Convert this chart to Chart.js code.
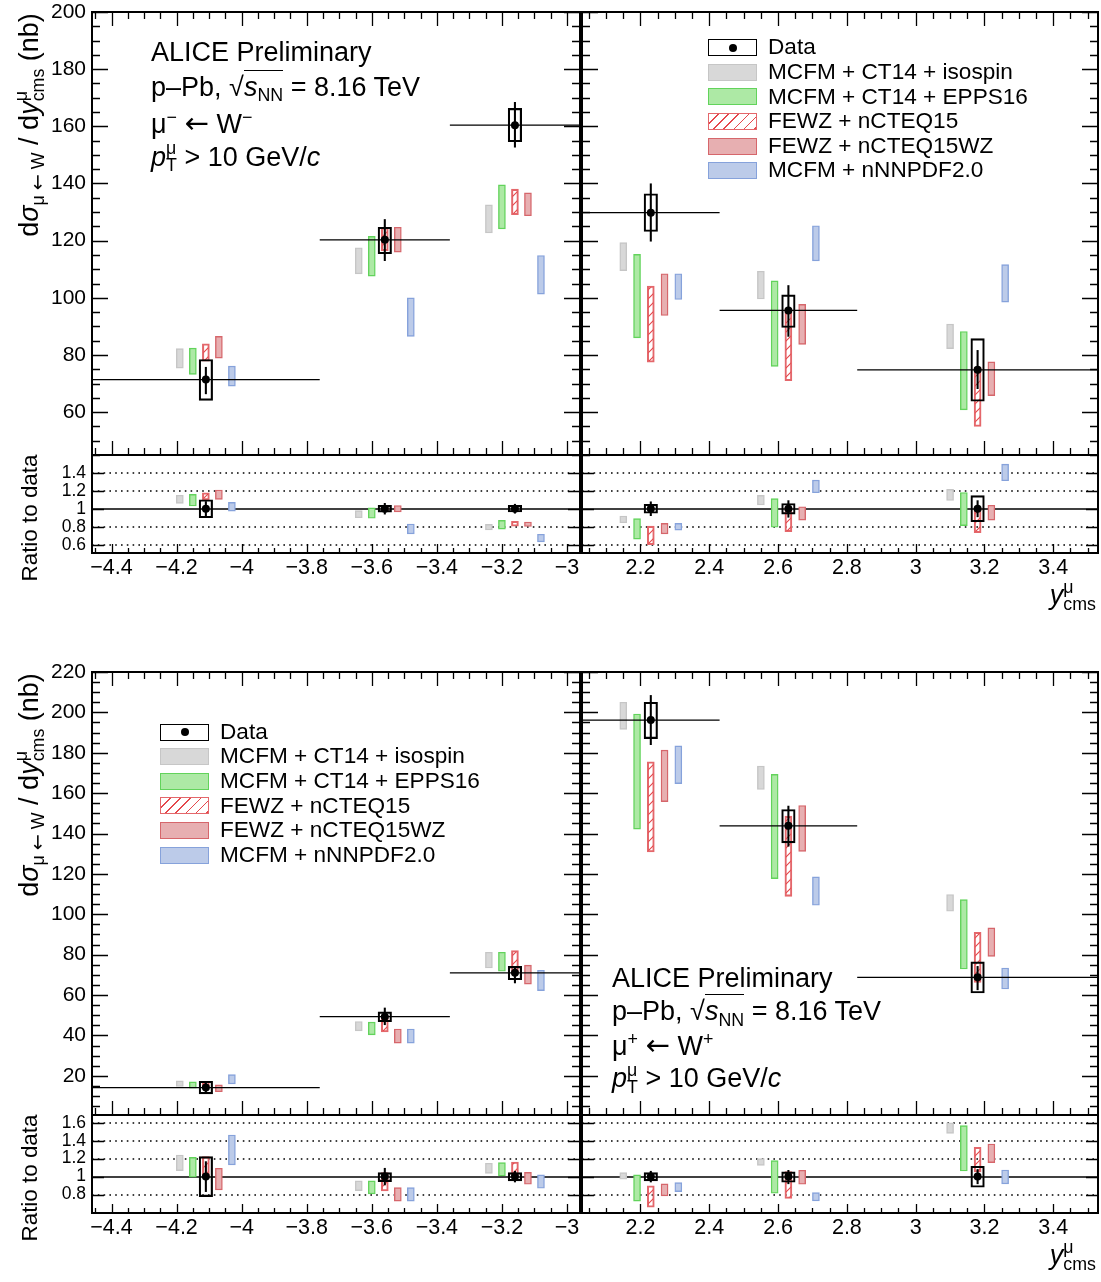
<!DOCTYPE html>
<html>
<head>
<meta charset="utf-8">
<script src="https://cdn.jsdelivr.net/npm/chart.js@4.4.1/dist/chart.umd.min.js"></script>
<style>
  body { margin: 0; background: #fff; }
  #stage { position: relative; width: 1101px; height: 1282px; overflow: hidden; background: #fff; }
  #charts { position: absolute; left: 0; top: 0; z-index: 1; }
  #texts { position: absolute; left: 0; top: 0; width: 1101px; height: 1282px; z-index: 2; pointer-events: none; }
  .t { position: absolute; white-space: nowrap; line-height: 1; color: #000;
       font-family: "Liberation Sans", Arial, Helvetica, sans-serif; }
  .rot { transform: translate(-50%, -50%) rotate(-90deg); }
  .sb { font-size: 0.66em; position: relative; top: 0.32em; }
  .sp { font-size: 0.66em; position: relative; top: -0.55em; }
  .sp0 { font-size: 0.66em; position: relative; top: -0.62em; display: inline-block; width: 0; }
  .ol { border-top: 1.5px solid #000; padding-top: 1px; }
  .ar { font-family: "DejaVu Sans", sans-serif; font-size: 1.08em; }
  .sw { position: absolute; width: 49px; height: 17px; box-sizing: border-box; }
</style>
</head>
<body>
<div id="stage">
  <div id="charts"></div>
  <div id="texts">
    <!-- top figure: mu- <- W- -->
    <div class="t rot" style="left:29px;top:125px;font-size:27px">d<i>σ</i><span class="sb">μ <span class="ar">←</span> W</span> / d<i>y</i><span class="sp0">μ</span><span class="sb">cms</span> (nb)</div>
    <div class="t rot" style="left:30px;top:518px;font-size:22.4px">Ratio to data</div>
    <div class="t" style="left:151px;top:39px;font-size:27px">ALICE Preliminary</div>
    <div class="t" style="left:151px;top:73.5px;font-size:27px">p–Pb, √<span class="ol"><i>s</i><span class="sb">NN</span></span> = 8.16 TeV</div>
    <div class="t" style="left:151px;top:108.5px;font-size:27px">μ<span class="sp">−</span> <span class="ar">←</span> W<span class="sp">−</span></div>
    <div class="t" style="left:151px;top:143.5px;font-size:27px"><i>p</i><span class="sp0">μ</span><span class="sb">T</span> &gt; 10 GeV/<i>c</i></div>
    <div class="t" style="right:5px;top:582px;font-size:27px"><i>y</i><span class="sp0">μ</span><span class="sb">cms</span></div>

    <!-- bottom figure: mu+ <- W+ -->
    <div class="t rot" style="left:29px;top:785px;font-size:27px">d<i>σ</i><span class="sb">μ <span class="ar">←</span> W</span> / d<i>y</i><span class="sp0">μ</span><span class="sb">cms</span> (nb)</div>
    <div class="t rot" style="left:30px;top:1178px;font-size:22.4px">Ratio to data</div>
    <div class="t" style="left:612px;top:965px;font-size:27px">ALICE Preliminary</div>
    <div class="t" style="left:612px;top:998px;font-size:27px">p–Pb, √<span class="ol"><i>s</i><span class="sb">NN</span></span> = 8.16 TeV</div>
    <div class="t" style="left:612px;top:1031px;font-size:27px">μ<span class="sp">+</span> <span class="ar">←</span> W<span class="sp">+</span></div>
    <div class="t" style="left:612px;top:1065px;font-size:27px"><i>p</i><span class="sp0">μ</span><span class="sb">T</span> &gt; 10 GeV/<i>c</i></div>
    <div class="t" style="right:5px;top:1242px;font-size:27px"><i>y</i><span class="sp0">μ</span><span class="sb">cms</span></div>
  </div>
</div>

<script>
const FONT = '"Liberation Sans", Arial, Helvetica, sans-serif';

// rapidity bins (y_cms)
const bwdEdges = [-4.46, -3.76, -3.36, -2.96];
const fwdEdges = [2.03, 2.43, 2.83, 3.53];
const bwdCentres = [-4.11, -3.56, -3.16];
const fwdCentres = [2.23, 2.63, 3.18];
const ratioOne = [1, 1, 1];

const modelNames = ['MCFM + CT14 + isospin', 'MCFM + CT14 + EPPS16', 'FEWZ + nCTEQ15',
                    'FEWZ + nCTEQ15WZ', 'MCFM + nNNPDF2.0'];

// ---- mu- <- W- : cross section (nb)
const wmBwdVal = [71.4, 120.3, 160.4];
const wmBwdStat = [[66.4, 75.7], [113.0, 127.4], [152.7, 168.4]];
const wmBwdSys = [[64.1, 78.4], [115.4, 124.7], [154.6, 166.3]];
const wmBwdModels = [
  [[75.4, 82.2], [108.4, 117.5], [122.7, 132.5]],
  [[73.2, 82.4], [107.6, 121.5], [124.1, 139.5]],
  [[77.8, 83.9], [116.5, 124.5], [129.1, 138.0]],
  [[78.9, 86.5], [116.0, 124.7], [128.7, 136.7]],
  [[69.1, 76.1], [86.5, 100.0], [101.3, 114.8]]
];
const wmFwdVal = [129.8, 95.6, 74.8];
const wmFwdStat = [[119.8, 139.9], [86.5, 104.3], [68.2, 81.6]];
const wmFwdSys = [[123.2, 136.4], [89.6, 101.0], [63.8, 85.7]];
const wmFwdModels = [
  [[109.5, 119.3], [99.6, 109.3], [82.2, 90.8]],
  [[86.0, 115.2], [76.0, 105.9], [60.8, 88.2]],
  [[77.5, 104.1], [71.0, 96.2], [55.0, 75.7]],
  [[93.8, 108.4], [83.7, 97.7], [65.8, 77.6]],
  [[99.4, 108.4], [112.9, 125.2], [98.5, 111.6]]
];
// ---- mu- <- W- : ratio to data
const wmBwdRStat = [[0.92, 1.08], [0.94, 1.06], [0.95, 1.05]];
const wmBwdRSys = [[0.90, 1.10], [0.963, 1.037], [0.964, 1.037]];
const wmBwdRModels = [
  [[1.06, 1.15], [0.90, 0.978], [0.765, 0.826]],
  [[1.03, 1.16], [0.894, 1.01], [0.774, 0.87]],
  [[1.097, 1.178], [0.968, 1.035], [0.805, 0.86]],
  [[1.104, 1.208], [0.964, 1.036], [0.802, 0.852]],
  [[0.974, 1.071], [0.72, 0.83], [0.632, 0.716]]
];
const wmFwdRStat = [[0.923, 1.077], [0.905, 1.09], [0.91, 1.09]];
const wmFwdRSys = [[0.95, 1.05], [0.94, 1.058], [0.855, 1.145]];
const wmFwdRModels = [
  [[0.844, 0.919], [1.042, 1.148], [1.092, 1.215]],
  [[0.663, 0.89], [0.794, 1.112], [0.812, 1.18]],
  [[0.60, 0.806], [0.744, 1.018], [0.734, 1.008]],
  [[0.72, 0.837], [0.874, 1.022], [0.874, 1.038]],
  [[0.763, 0.837], [1.178, 1.318], [1.311, 1.495]]
];

// ---- mu+ <- W+ : cross section (nb)
const wpBwdVal = [14.2, 49.3, 71.0];
const wpBwdStat = [[11.7, 16.9], [45.3, 53.6], [66.0, 74.2]];
const wpBwdSys = [[11.1, 17.3], [46.8, 51.7], [67.6, 74.2]];
const wpBwdModels = [
  [[14.7, 17.5], [42.3, 46.9], [73.4, 81.2]],
  [[13.9, 17.0], [40.3, 46.6], [71.8, 81.2]],
  [[14.0, 17.3], [41.7, 49.8], [71.5, 82.0]],
  [[12.1, 15.5], [36.2, 43.2], [65.4, 74.8]],
  [[16.0, 20.6], [36.2, 43.2], [62.2, 72.3]]
];
const wpFwdVal = [196.2, 143.8, 68.8];
const wpFwdStat = [[184.0, 208.4], [133.7, 153.6], [62.6, 74.2]];
const wpFwdSys = [[187.0, 205.0], [135.4, 151.9], [61.0, 76.4]];
const wpFwdModels = [
  [[191.6, 205.0], [161.8, 173.4], [101.5, 109.8]],
  [[142.2, 199.2], [117.7, 169.3], [72.9, 107.3]],
  [[130.9, 175.5], [108.9, 148.6], [66.3, 91.1]],
  [[155.8, 181.3], [131.2, 153.9], [79.2, 93.3]],
  [[164.7, 183.4], [104.5, 118.5], [63.0, 73.4]]
];
// ---- mu+ <- W+ : ratio to data
const wpBwdRStat = [[0.833, 1.167], [0.907, 1.093], [0.94, 1.06]];
const wpBwdRSys = [[0.778, 1.222], [0.944, 1.044], [0.952, 1.044]];
const wpBwdRModels = [
  [[1.067, 1.241], [0.844, 0.952], [1.037, 1.149]],
  [[0.993, 1.215], [0.808, 0.952], [1.007, 1.156]],
  [[1.0, 1.222], [0.841, 1.044], [1.0, 1.163]],
  [[0.852, 1.093], [0.727, 0.878], [0.915, 1.048]],
  [[1.13, 1.463], [0.727, 0.878], [0.871, 1.019]]
];
const wpFwdRStat = [[0.94, 1.06], [0.92, 1.07], [0.92, 1.08]];
const wpFwdRSys = [[0.952, 1.044], [0.937, 1.052], [0.882, 1.115]];
const wpFwdRModels = [
  [[0.971, 1.044], [1.126, 1.2], [1.482, 1.6]],
  [[0.727, 1.019], [0.815, 1.178], [1.063, 1.567]],
  [[0.66, 0.897], [0.756, 1.056], [1.052, 1.326]],
  [[0.785, 0.919], [0.915, 1.071], [1.156, 1.363]],
  [[0.833, 0.933], [0.73, 0.822], [0.919, 1.074]]
];

// tick labels
const xTicksBwd = [-4.4, -4.2, -4, -3.8, -3.6, -3.4, -3.2, -3];
const xTicksFwd = [2.2, 2.4, 2.6, 2.8, 3, 3.2, 3.4];
const yTicksWm = [60, 80, 100, 120, 140, 160, 180, 200];
const yTicksWp = [20, 40, 60, 80, 100, 120, 140, 160, 180, 200, 220];
const rTicksWm = [0.6, 0.8, 1, 1.2, 1.4];
const rTicksWp = [0.8, 1, 1.2, 1.4, 1.6];

// styles
const modelFill = ['#d8d8d8', '#ade9a5', null, '#e7afb1', '#bccbe9'];
const modelLine = ['#c6c6c6', '#62d35b', '#e4676b', '#d6666b', '#86a2db'];
const modelShift = [-0.08, -0.04, 0, 0.04, 0.08];
const BOX_W = 7, DATA_W = 13.5;

function hatchPattern() {
  const s = 9, c = document.createElement('canvas');
  c.width = c.height = s;
  const g = c.getContext('2d');
  g.strokeStyle = '#e5474b';
  g.lineWidth = 1.1;
  g.beginPath();
  g.moveTo(0, s); g.lineTo(s, 0);
  g.moveTo(-1, 1); g.lineTo(1, -1);
  g.moveTo(s - 1, s + 1); g.lineTo(s + 1, s - 1);
  g.stroke();
  return g.createPattern(c, 'repeat');
}
const HATCH = hatchPattern();

const fmt = v => String(+(+v).toFixed(2)).replace('-', '\u2212');

function minors(lo, hi, step) {
  const r = [];
  if (!step) return r;
  for (let v = Math.ceil(lo / step - 1e-6) * step; v <= hi + 1e-6; v += step) r.push(v);
  return r;
}

function sets(centres, edges, vals, stat, sys, models, withBins) {
  const out = [];
  models.forEach((m, k) => out.push({
    type: 'bar', grouped: false, barThickness: BOX_W, borderSkipped: false, borderWidth: 1.4,
    backgroundColor: k === 2 ? HATCH : modelFill[k], borderColor: modelLine[k], order: 10 + k,
    data: centres.map((c, i) => ({ x: c + modelShift[k], y: m[i] }))
  }));
  out.push({
    type: 'bar', grouped: false, barThickness: DATA_W, borderSkipped: false, borderWidth: 1.5,
    borderColor: '#000', backgroundColor: 'rgba(0,0,0,0)', order: 3,
    data: centres.map((c, i) => ({ x: c, y: sys[i] }))
  });
  out.push({
    type: 'bar', grouped: false, barThickness: 1.4, borderWidth: 0, backgroundColor: '#000', order: 2,
    data: centres.map((c, i) => ({ x: c, y: stat[i] }))
  });
  out.push({
    type: 'scatter', pointRadius: 4, pointBackgroundColor: '#000', pointBorderWidth: 0, order: 1,
    data: centres.map((c, i) => ({ x: c, y: vals[i] }))
  });
  if (withBins) {
    const pts = [];
    vals.forEach((v, i) => {
      pts.push({ x: edges[i], y: v }, { x: edges[i + 1], y: v }, { x: edges[i + 1], y: null });
    });
    out.push({
      type: 'line', data: pts, borderColor: '#000', borderWidth: 1.3, pointRadius: 0,
      spanGaps: false, fill: false, order: 4
    });
  }
  return out;
}

// ROOT-like frame with inward ticks, drawn from the chart scales
function rootFrame(f) {
  return {
    id: 'rootFrame',
    beforeDatasetsDraw(chart) {
      const { ctx, chartArea: a, scales: { y } } = chart;
      ctx.save();
      ctx.strokeStyle = '#000';
      ctx.lineWidth = 1.6;
      ctx.setLineDash([1.6, 4.2]);
      (f.dotted || []).forEach(v => {
        const py = Math.round(y.getPixelForValue(v));
        ctx.beginPath(); ctx.moveTo(a.left, py); ctx.lineTo(a.right, py); ctx.stroke();
      });
      ctx.setLineDash([]);
      ctx.lineWidth = 1.5;
      (f.solid || []).forEach(v => {
        const py = Math.round(y.getPixelForValue(v));
        ctx.beginPath(); ctx.moveTo(a.left, py); ctx.lineTo(a.right, py); ctx.stroke();
      });
      ctx.restore();
    },
    afterDatasetsDraw(chart) {
      const { ctx, chartArea: a, scales: { x, y } } = chart;
      ctx.save();
      ctx.strokeStyle = '#000';
      ctx.lineWidth = 1.3;
      ctx.beginPath();
      const xt = (v, len) => {
        const px = Math.round(x.getPixelForValue(v)) + 0.5;
        ctx.moveTo(px, a.bottom); ctx.lineTo(px, a.bottom - len);
        if (f.xTop) { ctx.moveTo(px, a.top); ctx.lineTo(px, a.top + len); }
      };
      const yt = (v, len) => {
        const py = Math.round(y.getPixelForValue(v)) + 0.5;
        ctx.moveTo(a.left, py); ctx.lineTo(a.left + len, py);
        ctx.moveTo(a.right, py); ctx.lineTo(a.right - len, py);
      };
      minors(x.min, x.max, f.xMinor).forEach(v => xt(v, f.xLen[1]));
      f.xMajor.forEach(v => xt(v, f.xLen[0]));
      minors(y.min, y.max, f.yMinor).forEach(v => yt(v, f.yLen[1]));
      f.yMajor.forEach(v => yt(v, f.yLen[0]));
      ctx.stroke();
      ctx.lineWidth = 2;
      ctx.strokeRect(a.left, a.top, a.right - a.left, a.bottom - a.top);
      ctx.restore();
    }
  };
}

function panel(cfg) {
  const [L, T, R, B] = cfg.rect;
  const yW = 70, xH = 34;
  // margins are larger than the tick-label overhang so the chart area stays exactly on rect
  const mL = cfg.yLabels ? 80 : 8, mR = 8, mT = 26, mB = cfg.xLabels ? 44 : 26;
  const W = R - L + mL + mR, H = B - T + mT + mB;
  const cv = document.createElement('canvas');
  cv.width = W; cv.height = H;
  cv.style.cssText = `position:absolute;left:${L - mL}px;top:${T - mT}px;width:${W}px;height:${H}px`;
  document.getElementById('charts').appendChild(cv);

  const xScale = {
    type: 'linear', min: cfg.xr[0], max: cfg.xr[1], offset: false, display: !!cfg.xLabels,
    grid: { display: false, drawTicks: false }, border: { display: false },
    ticks: { autoSkip: false, maxRotation: 0, padding: 2, color: '#000',
             font: { family: FONT, size: 21.5 }, callback: v => fmt(v) }
  };
  if (cfg.xLabels) {
    xScale.afterBuildTicks = s => { s.ticks = cfg.xLabels.map(v => ({ value: v })); };
    xScale.afterFit = s => { s.height = xH; };
  }
  const yScale = {
    type: 'linear', min: cfg.yr[0], max: cfg.yr[1], display: !!cfg.yLabels,
    grid: { display: false, drawTicks: false }, border: { display: false },
    ticks: { autoSkip: false, padding: 6, color: '#000',
             font: { family: FONT, size: cfg.yFont || 21 }, callback: v => fmt(v) }
  };
  if (cfg.yLabels) {
    yScale.afterBuildTicks = s => { s.ticks = cfg.yLabels.map(v => ({ value: v })); };
    yScale.afterFit = s => { s.width = yW; };
  }

  return new Chart(cv, {
    type: 'scatter',
    data: { datasets: cfg.datasets },
    options: {
      responsive: false, animation: false, devicePixelRatio: 1,
      layout: { padding: { left: cfg.yLabels ? mL - yW : mL, right: mR, top: mT,
                           bottom: cfg.xLabels ? mB - xH : mB } },
      plugins: { legend: { display: false }, tooltip: { enabled: false } },
      scales: { x: xScale, y: yScale }
    },
    plugins: [rootFrame(cfg.frame)]
  });
}

const mainFrame = (xMajor, yMajor) => ({ xMajor, xMinor: 0.05, xLen: [14, 7], xTop: true,
                                         yMajor, yMinor: 5, yLen: [16, 8] });
const ratioFrame = (xMajor, yMajor, dotted) => ({ xMajor, xMinor: 0.05, xLen: [9, 5], xTop: false,
                                                  yMajor, yMinor: 0, yLen: [12, 0], dotted, solid: [1] });

// ---------- top figure : mu- <- W-
panel({ rect: [92, 12, 580, 455], xr: [-4.46, -2.96], yr: [45, 200], yLabels: yTicksWm, yFont: 21,
        frame: mainFrame(xTicksBwd, yTicksWm),
        datasets: sets(bwdCentres, bwdEdges, wmBwdVal, wmBwdStat, wmBwdSys, wmBwdModels, true) });
panel({ rect: [582, 12, 1098, 455], xr: [2.03, 3.53], yr: [45, 200],
        frame: mainFrame(xTicksFwd, yTicksWm),
        datasets: sets(fwdCentres, fwdEdges, wmFwdVal, wmFwdStat, wmFwdSys, wmFwdModels, true) });
panel({ rect: [92, 455, 580, 553], xr: [-4.46, -2.96], yr: [0.508, 1.597], yLabels: rTicksWm, yFont: 17.5,
        xLabels: xTicksBwd, frame: ratioFrame(xTicksBwd, rTicksWm, [0.6, 0.8, 1.2, 1.4]),
        datasets: sets(bwdCentres, bwdEdges, ratioOne, wmBwdRStat, wmBwdRSys, wmBwdRModels, false) });
panel({ rect: [582, 455, 1098, 553], xr: [2.03, 3.53], yr: [0.508, 1.597],
        xLabels: xTicksFwd, frame: ratioFrame(xTicksFwd, rTicksWm, [0.6, 0.8, 1.2, 1.4]),
        datasets: sets(fwdCentres, fwdEdges, ratioOne, wmFwdRStat, wmFwdRSys, wmFwdRModels, false) });

// ---------- bottom figure : mu+ <- W+
panel({ rect: [92, 672, 580, 1115], xr: [-4.46, -2.96], yr: [0.6, 220], yLabels: yTicksWp, yFont: 21,
        frame: mainFrame(xTicksBwd, yTicksWp),
        datasets: sets(bwdCentres, bwdEdges, wpBwdVal, wpBwdStat, wpBwdSys, wpBwdModels, true) });
panel({ rect: [582, 672, 1098, 1115], xr: [2.03, 3.53], yr: [0.6, 220],
        frame: mainFrame(xTicksFwd, yTicksWp),
        datasets: sets(fwdCentres, fwdEdges, wpFwdVal, wpFwdStat, wpFwdSys, wpFwdModels, true) });
panel({ rect: [92, 1115, 580, 1213], xr: [-4.46, -2.96], yr: [0.595, 1.686], yLabels: rTicksWp, yFont: 17.5,
        xLabels: xTicksBwd, frame: ratioFrame(xTicksBwd, rTicksWp, [0.8, 1.2, 1.4, 1.6]),
        datasets: sets(bwdCentres, bwdEdges, ratioOne, wpBwdRStat, wpBwdRSys, wpBwdRModels, false) });
panel({ rect: [582, 1115, 1098, 1213], xr: [2.03, 3.53], yr: [0.595, 1.686],
        xLabels: xTicksFwd, frame: ratioFrame(xTicksFwd, rTicksWp, [0.8, 1.2, 1.4, 1.6]),
        datasets: sets(fwdCentres, fwdEdges, ratioOne, wpFwdRStat, wpFwdRSys, wpFwdRModels, false) });

// ---------- legends
function legend(x, yc, step) {
  const box = document.getElementById('texts');
  const rows = ['Data'].concat(modelNames);
  const swatch = [
    'background:#fff;border:1.5px solid #000',
    `background:${modelFill[0]};border:1.5px solid ${modelLine[0]}`,
    `background:${modelFill[1]};border:1.5px solid ${modelLine[1]}`,
    `background:repeating-linear-gradient(135deg,#fff 0 6px,#e5474b 6px 7.2px);border:1.5px solid ${modelLine[2]}`,
    `background:${modelFill[3]};border:1.5px solid ${modelLine[3]}`,
    `background:${modelFill[4]};border:1.5px solid ${modelLine[4]}`
  ];
  rows.forEach((name, i) => {
    const cy = yc + i * step;
    const sw = document.createElement('div');
    sw.className = 'sw';
    sw.style.cssText += `left:${x}px;top:${cy - 8.5}px;${swatch[i]}`;
    if (i === 0) {
      const dot = document.createElement('div');
      dot.style.cssText = 'position:absolute;left:50%;top:50%;width:8px;height:8px;margin:-4px 0 0 -4px;border-radius:50%;background:#000';
      sw.appendChild(dot);
    }
    box.appendChild(sw);
    const tx = document.createElement('div');
    tx.className = 't';
    tx.style.cssText += `left:${x + 60}px;top:${cy - 11.3}px;font-size:22.6px`;
    tx.textContent = name;
    box.appendChild(tx);
  });
}
legend(708, 47.7, 24.6);
legend(160, 732, 24.6);
</script>
</body>
</html>
